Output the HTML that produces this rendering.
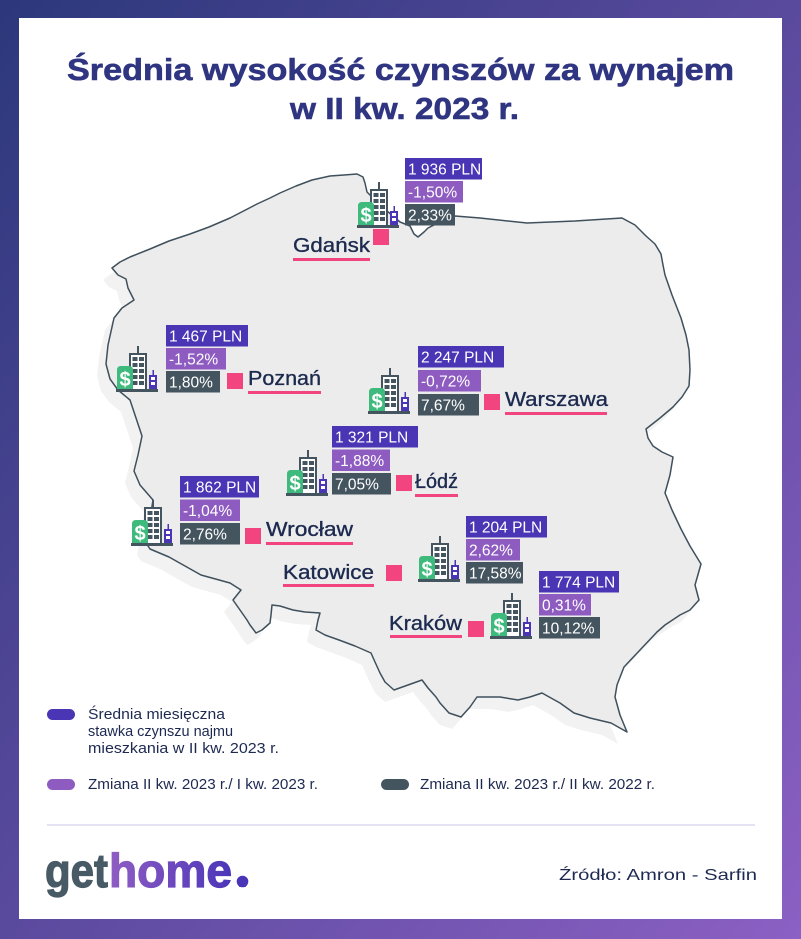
<!DOCTYPE html>
<html><head><meta charset="utf-8"><style>
html,body{margin:0;padding:0;width:801px;height:939px;overflow:hidden;background:#fff}
svg{display:block}
text{font-family:"Liberation Sans",sans-serif}
</style></head><body>
<svg width="801" height="939" viewBox="0 0 801 939" xmlns="http://www.w3.org/2000/svg">
<defs>
<linearGradient id="bg" x1="0" y1="0" x2="1" y2="1">
<stop offset="0" stop-color="#2c387b"/><stop offset="0.5" stop-color="#5a4a9e"/><stop offset="1" stop-color="#8c60c4"/>
</linearGradient>
<linearGradient id="hg" gradientUnits="userSpaceOnUse" x1="110" y1="0" x2="234" y2="0">
<stop offset="0" stop-color="#8f5dc3"/><stop offset="1" stop-color="#4a35b8"/>
</linearGradient>
</defs>
<rect x="0" y="0" width="801" height="939" fill="url(#bg)"/>
<rect x="19" y="18" width="763" height="901" fill="#fff"/>

<text x="67" y="80" font-size="31" font-weight="bold" fill="#2f3581" stroke="#2f3581" stroke-width="0.6" textLength="667" lengthAdjust="spacingAndGlyphs">Średnia wysokość czynszów za wynajem</text>
<text x="290" y="119" font-size="31" font-weight="bold" fill="#2f3581" stroke="#2f3581" stroke-width="0.6" textLength="229" lengthAdjust="spacingAndGlyphs">w II kw. 2023 r.</text>

<polygon transform="translate(-9,12)" fill="#f2f2f2" points="112,268 120,262 130,257 150,249 169,241 190,234 209,227 230,218 257,204 270,198 280,193 296,186 312,180 330,176 344,175 357,174 363,177 365,183 367,192 380,205 400,222 410,226 414,234 418,237 424,232 428,228 440,222 455,216 480,218 527,223 575,221 622,218 635,225 646,236 655,244 661,254 663,265 665,275 672,295 681,318 686,335 689,350 690,370 689,386 682,397 673,407 660,418 646,429 648,438 653,446 662,452 673,457 670,475 665,493 672,510 681,529 690,546 701,564 695,585 699,600 690,610 680,615 665,625 657,632 640,650 624,667 617,685 615,697 620,715 627,732 611,723 590,718 574,713 560,703 542,693 530,697 518,700 500,697 477,697 470,707 461,717 449,713 440,703 436,697 428,688 422,680 408,685 394,690 385,682 380,673 375,662 371,653 355,646 339,640 325,635 316,630 318,620 320,613 305,612 293,610 280,606 272,605 271,615 270,623 262,630 256,633 250,625 247,620 240,610 233,600 241,590 230,583 201,575 185,566 169,557 150,549 146,543 149,525 153,500 140,485 134,471 138,455 142,436 136,418 130,400 118,390 110,379 106,364 108,345 114,318 122,308 134,300 128,288 126,279 118,275"/>
<polygon fill="#ececec" stroke="#3f505c" stroke-width="1.5" stroke-linejoin="round" points="112,268 120,262 130,257 150,249 169,241 190,234 209,227 230,218 257,204 270,198 280,193 296,186 312,180 330,176 344,175 357,174 363,177 365,183 367,192 380,205 400,222 410,226 414,234 418,237 424,232 428,228 440,222 455,216 480,218 527,223 575,221 622,218 635,225 646,236 655,244 661,254 663,265 665,275 672,295 681,318 686,335 689,350 690,370 689,386 682,397 673,407 660,418 646,429 648,438 653,446 662,452 673,457 670,475 665,493 672,510 681,529 690,546 701,564 695,585 699,600 690,610 680,615 665,625 657,632 640,650 624,667 617,685 615,697 620,715 627,732 611,723 590,718 574,713 560,703 542,693 530,697 518,700 500,697 477,697 470,707 461,717 449,713 440,703 436,697 428,688 422,680 408,685 394,690 385,682 380,673 375,662 371,653 355,646 339,640 325,635 316,630 318,620 320,613 305,612 293,610 280,606 272,605 271,615 270,623 262,630 256,633 250,625 247,620 240,610 233,600 241,590 230,583 201,575 185,566 169,557 150,549 146,543 149,525 153,500 140,485 134,471 138,455 142,436 136,418 130,400 118,390 110,379 106,364 108,345 114,318 122,308 134,300 128,288 126,279 118,275"/>

<g transform="translate(357,182)">
<rect x="21" y="0" width="2" height="8" fill="#45555f"/><rect x="13" y="7" width="18" height="37" fill="#45555f"/><rect x="15" y="9" width="14" height="34" fill="#fff"/>
<g fill="#45555f"><rect x="16.5" y="11" width="5" height="4"/><rect x="23" y="11" width="5" height="4"/><rect x="16.5" y="17" width="5" height="4"/><rect x="23" y="17" width="5" height="4"/><rect x="16.5" y="23" width="5" height="4"/><rect x="23" y="23" width="5" height="4"/><rect x="16.5" y="29" width="5" height="4"/><rect x="23" y="29" width="5" height="4"/><rect x="16.5" y="35" width="5" height="4"/><rect x="23" y="35" width="5" height="4"/></g>
<path d="M1,24 Q1,20 5,20 L13,20 Q17,20 17,24 L17,44 L1,44 Z" fill="#3dba7c"/><text x="9" y="40" font-size="20" font-weight="bold" fill="#fff" text-anchor="middle">$</text>
<rect x="36.5" y="24" width="1.5" height="6" fill="#4a35b5"/><rect x="33" y="29" width="8" height="15" fill="#4a35b5"/><rect x="35" y="31" width="4" height="3" fill="#fff"/><rect x="35" y="36" width="4" height="3" fill="#fff"/>
<rect x="0" y="43" width="42" height="3" fill="#45555f"/></g>

<g transform="translate(116,346)">
<rect x="21" y="0" width="2" height="8" fill="#45555f"/><rect x="13" y="7" width="18" height="37" fill="#45555f"/><rect x="15" y="9" width="14" height="34" fill="#fff"/>
<g fill="#45555f"><rect x="16.5" y="11" width="5" height="4"/><rect x="23" y="11" width="5" height="4"/><rect x="16.5" y="17" width="5" height="4"/><rect x="23" y="17" width="5" height="4"/><rect x="16.5" y="23" width="5" height="4"/><rect x="23" y="23" width="5" height="4"/><rect x="16.5" y="29" width="5" height="4"/><rect x="23" y="29" width="5" height="4"/><rect x="16.5" y="35" width="5" height="4"/><rect x="23" y="35" width="5" height="4"/></g>
<path d="M1,24 Q1,20 5,20 L13,20 Q17,20 17,24 L17,44 L1,44 Z" fill="#3dba7c"/><text x="9" y="40" font-size="20" font-weight="bold" fill="#fff" text-anchor="middle">$</text>
<rect x="36.5" y="24" width="1.5" height="6" fill="#4a35b5"/><rect x="33" y="29" width="8" height="15" fill="#4a35b5"/><rect x="35" y="31" width="4" height="3" fill="#fff"/><rect x="35" y="36" width="4" height="3" fill="#fff"/>
<rect x="0" y="43" width="42" height="3" fill="#45555f"/></g>

<g transform="translate(368,368)">
<rect x="21" y="0" width="2" height="8" fill="#45555f"/><rect x="13" y="7" width="18" height="37" fill="#45555f"/><rect x="15" y="9" width="14" height="34" fill="#fff"/>
<g fill="#45555f"><rect x="16.5" y="11" width="5" height="4"/><rect x="23" y="11" width="5" height="4"/><rect x="16.5" y="17" width="5" height="4"/><rect x="23" y="17" width="5" height="4"/><rect x="16.5" y="23" width="5" height="4"/><rect x="23" y="23" width="5" height="4"/><rect x="16.5" y="29" width="5" height="4"/><rect x="23" y="29" width="5" height="4"/><rect x="16.5" y="35" width="5" height="4"/><rect x="23" y="35" width="5" height="4"/></g>
<path d="M1,24 Q1,20 5,20 L13,20 Q17,20 17,24 L17,44 L1,44 Z" fill="#3dba7c"/><text x="9" y="40" font-size="20" font-weight="bold" fill="#fff" text-anchor="middle">$</text>
<rect x="36.5" y="24" width="1.5" height="6" fill="#4a35b5"/><rect x="33" y="29" width="8" height="15" fill="#4a35b5"/><rect x="35" y="31" width="4" height="3" fill="#fff"/><rect x="35" y="36" width="4" height="3" fill="#fff"/>
<rect x="0" y="43" width="42" height="3" fill="#45555f"/></g>

<g transform="translate(286,450)">
<rect x="21" y="0" width="2" height="8" fill="#45555f"/><rect x="13" y="7" width="18" height="37" fill="#45555f"/><rect x="15" y="9" width="14" height="34" fill="#fff"/>
<g fill="#45555f"><rect x="16.5" y="11" width="5" height="4"/><rect x="23" y="11" width="5" height="4"/><rect x="16.5" y="17" width="5" height="4"/><rect x="23" y="17" width="5" height="4"/><rect x="16.5" y="23" width="5" height="4"/><rect x="23" y="23" width="5" height="4"/><rect x="16.5" y="29" width="5" height="4"/><rect x="23" y="29" width="5" height="4"/><rect x="16.5" y="35" width="5" height="4"/><rect x="23" y="35" width="5" height="4"/></g>
<path d="M1,24 Q1,20 5,20 L13,20 Q17,20 17,24 L17,44 L1,44 Z" fill="#3dba7c"/><text x="9" y="40" font-size="20" font-weight="bold" fill="#fff" text-anchor="middle">$</text>
<rect x="36.5" y="24" width="1.5" height="6" fill="#4a35b5"/><rect x="33" y="29" width="8" height="15" fill="#4a35b5"/><rect x="35" y="31" width="4" height="3" fill="#fff"/><rect x="35" y="36" width="4" height="3" fill="#fff"/>
<rect x="0" y="43" width="42" height="3" fill="#45555f"/></g>

<g transform="translate(131,500)">
<rect x="21" y="0" width="2" height="8" fill="#45555f"/><rect x="13" y="7" width="18" height="37" fill="#45555f"/><rect x="15" y="9" width="14" height="34" fill="#fff"/>
<g fill="#45555f"><rect x="16.5" y="11" width="5" height="4"/><rect x="23" y="11" width="5" height="4"/><rect x="16.5" y="17" width="5" height="4"/><rect x="23" y="17" width="5" height="4"/><rect x="16.5" y="23" width="5" height="4"/><rect x="23" y="23" width="5" height="4"/><rect x="16.5" y="29" width="5" height="4"/><rect x="23" y="29" width="5" height="4"/><rect x="16.5" y="35" width="5" height="4"/><rect x="23" y="35" width="5" height="4"/></g>
<path d="M1,24 Q1,20 5,20 L13,20 Q17,20 17,24 L17,44 L1,44 Z" fill="#3dba7c"/><text x="9" y="40" font-size="20" font-weight="bold" fill="#fff" text-anchor="middle">$</text>
<rect x="36.5" y="24" width="1.5" height="6" fill="#4a35b5"/><rect x="33" y="29" width="8" height="15" fill="#4a35b5"/><rect x="35" y="31" width="4" height="3" fill="#fff"/><rect x="35" y="36" width="4" height="3" fill="#fff"/>
<rect x="0" y="43" width="42" height="3" fill="#45555f"/></g>

<g transform="translate(418,536)">
<rect x="21" y="0" width="2" height="8" fill="#45555f"/><rect x="13" y="7" width="18" height="37" fill="#45555f"/><rect x="15" y="9" width="14" height="34" fill="#fff"/>
<g fill="#45555f"><rect x="16.5" y="11" width="5" height="4"/><rect x="23" y="11" width="5" height="4"/><rect x="16.5" y="17" width="5" height="4"/><rect x="23" y="17" width="5" height="4"/><rect x="16.5" y="23" width="5" height="4"/><rect x="23" y="23" width="5" height="4"/><rect x="16.5" y="29" width="5" height="4"/><rect x="23" y="29" width="5" height="4"/><rect x="16.5" y="35" width="5" height="4"/><rect x="23" y="35" width="5" height="4"/></g>
<path d="M1,24 Q1,20 5,20 L13,20 Q17,20 17,24 L17,44 L1,44 Z" fill="#3dba7c"/><text x="9" y="40" font-size="20" font-weight="bold" fill="#fff" text-anchor="middle">$</text>
<rect x="36.5" y="24" width="1.5" height="6" fill="#4a35b5"/><rect x="33" y="29" width="8" height="15" fill="#4a35b5"/><rect x="35" y="31" width="4" height="3" fill="#fff"/><rect x="35" y="36" width="4" height="3" fill="#fff"/>
<rect x="0" y="43" width="42" height="3" fill="#45555f"/></g>

<g transform="translate(490,593)">
<rect x="21" y="0" width="2" height="8" fill="#45555f"/><rect x="13" y="7" width="18" height="37" fill="#45555f"/><rect x="15" y="9" width="14" height="34" fill="#fff"/>
<g fill="#45555f"><rect x="16.5" y="11" width="5" height="4"/><rect x="23" y="11" width="5" height="4"/><rect x="16.5" y="17" width="5" height="4"/><rect x="23" y="17" width="5" height="4"/><rect x="16.5" y="23" width="5" height="4"/><rect x="23" y="23" width="5" height="4"/><rect x="16.5" y="29" width="5" height="4"/><rect x="23" y="29" width="5" height="4"/><rect x="16.5" y="35" width="5" height="4"/><rect x="23" y="35" width="5" height="4"/></g>
<path d="M1,24 Q1,20 5,20 L13,20 Q17,20 17,24 L17,44 L1,44 Z" fill="#3dba7c"/><text x="9" y="40" font-size="20" font-weight="bold" fill="#fff" text-anchor="middle">$</text>
<rect x="36.5" y="24" width="1.5" height="6" fill="#4a35b5"/><rect x="33" y="29" width="8" height="15" fill="#4a35b5"/><rect x="35" y="31" width="4" height="3" fill="#fff"/><rect x="35" y="36" width="4" height="3" fill="#fff"/>
<rect x="0" y="43" width="42" height="3" fill="#45555f"/></g>

<g font-size="15.5" fill="#fff">
<rect x="405" y="158" width="77" height="21.5" fill="#4a35b5"/><text x="408" y="174.5">1 936 PLN</text>
<rect x="405" y="181" width="58" height="21.5" fill="#8e5cc0"/><text x="408" y="197.5">-1,50%</text>
<rect x="405" y="204" width="50" height="21.5" fill="#45555f"/><text x="408" y="220.5">2,33%</text>
<rect x="166" y="325" width="82" height="21.5" fill="#4a35b5"/><text x="169" y="341.5">1 467 PLN</text>
<rect x="166" y="348" width="60" height="21.5" fill="#8e5cc0"/><text x="169" y="364.5">-1,52%</text>
<rect x="166" y="371" width="54" height="21.5" fill="#45555f"/><text x="169" y="387.5">1,80%</text>
<rect x="418" y="346" width="86" height="21.5" fill="#4a35b5"/><text x="421" y="362.5">2 247 PLN</text>
<rect x="418" y="370" width="63" height="21.5" fill="#8e5cc0"/><text x="421" y="386.5">-0,72%</text>
<rect x="418" y="394" width="61" height="21.5" fill="#45555f"/><text x="421" y="410.5">7,67%</text>
<rect x="332" y="426" width="86" height="21.5" fill="#4a35b5"/><text x="335" y="442.5">1 321 PLN</text>
<rect x="332" y="449.5" width="58" height="21.5" fill="#8e5cc0"/><text x="335" y="466">-1,88%</text>
<rect x="332" y="473" width="59" height="21.5" fill="#45555f"/><text x="335" y="489.5">7,05%</text>
<rect x="180" y="476" width="79" height="21.5" fill="#4a35b5"/><text x="183" y="492.5">1 862 PLN</text>
<rect x="180" y="499.5" width="60" height="21.5" fill="#8e5cc0"/><text x="183" y="516">-1,04%</text>
<rect x="180" y="523" width="60" height="21.5" fill="#45555f"/><text x="183" y="539.5">2,76%</text>
<rect x="466" y="516" width="81" height="21.5" fill="#4a35b5"/><text x="469" y="532.5">1 204 PLN</text>
<rect x="466" y="539" width="54" height="21.5" fill="#8e5cc0"/><text x="469" y="555.5">2,62%</text>
<rect x="466" y="562" width="57" height="21.5" fill="#45555f"/><text x="469" y="578.5">17,58%</text>
<rect x="539" y="571" width="80" height="21.5" fill="#4a35b5"/><text x="542" y="587.5">1 774 PLN</text>
<rect x="539" y="594" width="52" height="21.5" fill="#8e5cc0"/><text x="542" y="610.5">0,31%</text>
<rect x="539" y="617" width="61" height="21.5" fill="#45555f"/><text x="542" y="633.5">10,12%</text>
</g>

<g fill="#f2447e">
<rect x="373" y="229" width="16" height="16"/>
<rect x="227" y="373" width="16" height="16"/>
<rect x="484" y="394" width="16" height="16"/>
<rect x="396" y="475" width="16" height="16"/>
<rect x="245" y="528" width="16" height="16"/>
<rect x="386" y="565" width="16" height="16"/>
<rect x="468" y="621" width="16" height="16"/>
<rect x="293" y="258" width="77" height="3"/>
<rect x="248" y="391" width="73" height="3"/>
<rect x="505" y="412" width="102" height="3"/>
<rect x="415" y="494" width="43" height="3"/>
<rect x="266" y="542" width="87" height="3"/>
<rect x="283" y="584" width="91" height="3"/>
<rect x="390" y="635" width="72" height="3"/>
</g>
<g font-size="20" fill="#1c2a4f" stroke="#1c2a4f" stroke-width="0.35">
<text x="293" y="252" textLength="77" lengthAdjust="spacingAndGlyphs">Gdańsk</text>
<text x="248" y="385" textLength="73" lengthAdjust="spacingAndGlyphs">Poznań</text>
<text x="505" y="406" textLength="103" lengthAdjust="spacingAndGlyphs">Warszawa</text>
<text x="415" y="488" textLength="43" lengthAdjust="spacingAndGlyphs">Łódź</text>
<text x="266" y="536" textLength="87" lengthAdjust="spacingAndGlyphs">Wrocław</text>
<text x="283" y="579" textLength="91" lengthAdjust="spacingAndGlyphs">Katowice</text>
<text x="389" y="630" textLength="73" lengthAdjust="spacingAndGlyphs">Kraków</text>
</g>

<rect x="47" y="709" width="28" height="11" rx="5.5" fill="#4a35b5"/>
<rect x="47" y="779" width="28" height="11" rx="5.5" fill="#8e5cc0"/>
<rect x="381" y="779" width="28" height="11" rx="5.5" fill="#45555f"/>
<g fill="#1d2951">
<text x="88" y="719" font-size="14.5" textLength="137" lengthAdjust="spacingAndGlyphs">Średnia miesięczna</text>
<text x="88" y="736" font-size="14.5">stawka czynszu najmu</text>
<text x="88" y="753" font-size="14.5" textLength="191" lengthAdjust="spacingAndGlyphs">mieszkania w II kw. 2023 r.</text>
<text x="88" y="789" font-size="14.5" textLength="230" lengthAdjust="spacingAndGlyphs">Zmiana II kw. 2023 r./ I kw. 2023 r.</text>
<text x="420" y="789" font-size="14.5" textLength="235" lengthAdjust="spacingAndGlyphs">Zmiana II kw. 2023 r./ II kw. 2022 r.</text>
</g>

<rect x="47" y="824" width="708" height="2" fill="#e5e3f3"/>

<text x="45" y="887" font-size="47" font-weight="bold" fill="#475a66" stroke="#475a66" stroke-width="1.2" textLength="63" lengthAdjust="spacingAndGlyphs">get</text>
<text x="109" y="887" font-size="47" font-weight="bold" fill="url(#hg)" stroke="url(#hg)" stroke-width="1.2" textLength="123" lengthAdjust="spacingAndGlyphs">home</text>
<text x="236" y="887" font-size="47" font-weight="bold" fill="#4a35b8">.</text>
<circle cx="242.5" cy="881.5" r="5.8" fill="#4a35b8"/>

<text x="559" y="880" font-size="16" fill="#1d2951" textLength="198" lengthAdjust="spacingAndGlyphs">Źródło: Amron - Sarfin</text>
</svg>
</body></html>
